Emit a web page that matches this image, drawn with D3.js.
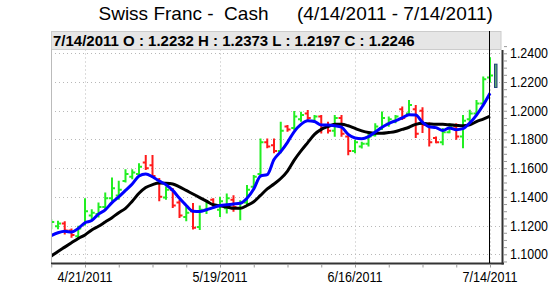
<!DOCTYPE html>
<html><head><meta charset="utf-8">
<script src="https://cdn.jsdelivr.net/npm/d3@7"></script>
<style>body{margin:0;background:#fff}</style>
</head><body><svg id="c" width="553" height="285"></svg>
<script>
const dates=["4/14/2011","4/15/2011","4/18/2011","4/19/2011","4/20/2011","4/21/2011","4/22/2011","4/25/2011","4/26/2011","4/27/2011","4/28/2011","4/29/2011",
"5/2/2011","5/3/2011","5/4/2011","5/5/2011","5/6/2011","5/9/2011","5/10/2011","5/11/2011","5/12/2011","5/13/2011","5/16/2011","5/17/2011","5/18/2011","5/19/2011","5/20/2011","5/23/2011","5/24/2011","5/25/2011","5/26/2011","5/27/2011","5/30/2011","5/31/2011",
"6/1/2011","6/2/2011","6/3/2011","6/6/2011","6/7/2011","6/8/2011","6/9/2011","6/10/2011","6/13/2011","6/14/2011","6/15/2011","6/16/2011","6/17/2011","6/20/2011","6/21/2011","6/22/2011","6/23/2011","6/24/2011","6/27/2011","6/28/2011","6/29/2011","6/30/2011",
"7/1/2011","7/4/2011","7/5/2011","7/6/2011","7/7/2011","7/8/2011","7/11/2011","7/12/2011","7/13/2011","7/14/2011"];
const open=[1.1190,1.1195,1.1215,1.1165,1.1125,1.1210,1.1270,1.1280,1.1330,1.1390,1.1410,1.1510,1.1540,1.1560,1.1640,1.1620,1.1520,1.1395,1.1450,1.1360,1.1260,1.1300,1.1190,1.1310,1.1380,1.1310,1.1320,1.1380,1.1320,1.1360,1.1470,1.1560,1.1780,1.1760,1.1720,1.1890,1.1880,1.1940,1.1980,1.1930,1.1960,1.1900,1.1860,1.1950,1.1820,1.1720,1.1750,1.1770,1.1830,1.1880,1.1910,1.1930,1.2010,1.1980,1.2010,1.2000,1.1900,1.1810,1.1780,1.1850,1.1890,1.1820,1.1940,1.1980,1.2050,1.2232];
const high=[1.1244,1.1233,1.1230,1.1180,1.1198,1.1390,1.1314,1.1360,1.1430,1.1535,1.1512,1.1593,1.1593,1.1635,1.1692,1.1692,1.1531,1.1473,1.1461,1.1380,1.1334,1.1357,1.1340,1.1370,1.1390,1.1400,1.1424,1.1412,1.1377,1.1482,1.1552,1.1807,1.1807,1.1807,1.1923,1.1900,1.1998,1.1993,1.2005,1.1970,1.1970,1.1923,1.1970,1.1970,1.1830,1.1796,1.1784,1.1843,1.1913,1.1994,1.1959,1.1970,1.2029,1.2075,1.2040,1.2025,1.1920,1.1820,1.1880,1.1913,1.1913,1.1970,1.2006,1.2075,1.2238,1.2373];
const low=[1.1174,1.1174,1.1138,1.1115,1.1100,1.1200,1.1244,1.1256,1.1314,1.1372,1.1380,1.1500,1.1523,1.1554,1.1588,1.1531,1.1369,1.1380,1.1323,1.1253,1.1230,1.1172,1.1170,1.1280,1.1330,1.1260,1.1284,1.1296,1.1238,1.1343,1.1459,1.1552,1.1738,1.1703,1.1703,1.1854,1.1865,1.1923,1.1935,1.1915,1.1842,1.1842,1.1819,1.1819,1.1690,1.1703,1.1737,1.1750,1.1820,1.1866,1.1889,1.1913,1.1936,1.1970,1.1810,1.1845,1.1750,1.1774,1.1760,1.1843,1.1797,1.1738,1.1913,1.1970,1.2029,1.2197];
const close=[1.1225,1.1215,1.1165,1.1135,1.1180,1.1300,1.1290,1.1330,1.1390,1.1460,1.1450,1.1560,1.1570,1.1610,1.1600,1.1545,1.1400,1.1450,1.1340,1.1270,1.1290,1.1185,1.1310,1.1360,1.1340,1.1370,1.1390,1.1330,1.1360,1.1450,1.1540,1.1780,1.1750,1.1720,1.1860,1.1870,1.1960,1.1970,1.1950,1.1960,1.1880,1.1860,1.1950,1.1840,1.1720,1.1780,1.1770,1.1820,1.1890,1.1950,1.1940,1.1960,1.1950,1.2040,1.1840,1.1900,1.1780,1.1780,1.1850,1.1890,1.1820,1.1930,1.1980,1.2050,1.2220,1.2246];
const fastMA=[1.1130,1.1150,1.1160,1.1155,1.1180,1.1220,1.1235,1.1280,1.1310,1.1360,1.1400,1.1445,1.1490,1.1545,1.1560,1.1540,1.1510,1.1485,1.1445,1.1390,1.1340,1.1300,1.1298,1.1310,1.1325,1.1340,1.1345,1.1350,1.1355,1.1390,1.1455,1.1545,1.1555,1.1660,1.1715,1.1780,1.1855,1.1905,1.1930,1.1925,1.1900,1.1900,1.1895,1.1885,1.1835,1.1810,1.1805,1.1820,1.1852,1.1885,1.1910,1.1930,1.1950,1.1972,1.1970,1.1920,1.1888,1.1882,1.1862,1.1880,1.1868,1.1875,1.1915,1.1970,1.2040,1.2122];
const slowMA=[1.0988,1.1020,1.1050,1.1080,1.1110,1.1135,1.1170,1.1195,1.1225,1.1255,1.1290,1.1320,1.1370,1.1425,1.1465,1.1485,1.1496,1.1495,1.1490,1.1470,1.1445,1.1420,1.1395,1.1370,1.1345,1.1338,1.1330,1.1320,1.1320,1.1340,1.1366,1.1410,1.1455,1.1490,1.1528,1.1580,1.1656,1.1720,1.1778,1.1835,1.1870,1.1890,1.1905,1.1905,1.1895,1.1877,1.1860,1.1848,1.1843,1.1843,1.1848,1.1855,1.1870,1.1885,1.1905,1.1912,1.1908,1.1905,1.1905,1.1902,1.1898,1.1895,1.1902,1.1924,1.1942,1.1962];
const yTicks=[1.10,1.12,1.14,1.16,1.18,1.20,1.22,1.24];
const xLabels=["4/21/2011","5/19/2011","6/16/2011","7/14/2011"];
const titleMain="Swiss Franc -  Cash";
const titleRange="(4/14/2011 - 7/14/2011)";

const svg=d3.select("#c");
const L=51, R=502, T=49.5, B=263;
const x=d3.scaleLinear().domain([0,65]).range([51.25,490]);
const y=d3.scaleLinear().domain([1.10,1.24]).range([254.3,53.3]);
const idx=dates.map((d,i)=>i);

// title
svg.append("text").attr("x",98.5).attr("y",20).attr("font-family","Liberation Sans, Arial").attr("font-size",19).attr("fill","#000").attr("xml:space","preserve").style("white-space","pre").text(titleMain);
svg.append("text").attr("x",297).attr("y",20).attr("font-family","Liberation Sans, Arial").attr("font-size",19).attr("fill","#000").text(titleRange);

// grid
const grid=svg.append("g");
grid.selectAll("line.h").data(yTicks).join("line")
  .attr("x1",L).attr("x2",R).attr("y1",d=>Math.round(y(d))+0.5).attr("y2",d=>Math.round(y(d))+0.5)
  .attr("stroke","#b8b8b8").attr("stroke-dasharray","1,3");
grid.selectAll("line.v").data(xLabels).join("line")
  .attr("x1",d=>Math.round(x(dates.indexOf(d)))+0.5).attr("x2",d=>Math.round(x(dates.indexOf(d)))+0.5)
  .attr("y1",T).attr("y2",B).attr("stroke","#b8b8b8").attr("stroke-dasharray","1,3");

// clip
svg.append("clipPath").attr("id","pc").append("rect").attr("x",L).attr("y",T).attr("width",R-L).attr("height",B-T);
const plot=svg.append("g").attr("clip-path","url(#pc)");

// OHLC bars
const bars=plot.selectAll("g.bar").data(idx).join("g")
  .attr("stroke",i=>close[i]>=open[i]?"#22ee22":"#ff1a1a").attr("stroke-width",2);
bars.append("line").attr("x1",i=>x(i)).attr("x2",i=>x(i)).attr("y1",i=>y(high[i])).attr("y2",i=>y(low[i]));
bars.append("line").attr("x1",i=>x(i)-3).attr("x2",i=>x(i)).attr("y1",i=>y(open[i])).attr("y2",i=>y(open[i]));
bars.append("line").attr("x1",i=>x(i)).attr("x2",i=>x(i)+3).attr("y1",i=>y(close[i])).attr("y2",i=>y(close[i]));

// moving averages
const line=arr=>d3.line().x(i=>x(i)).y(i=>y(arr[i])).curve(d3.curveMonotoneX)(idx);
plot.append("path").attr("d",line(slowMA)).attr("fill","none").attr("stroke","#000").attr("stroke-width",3).attr("stroke-linejoin","round");
plot.append("path").attr("d",line(fastMA)).attr("fill","none").attr("stroke","#0000ff").attr("stroke-width",3).attr("stroke-linejoin","round");

// header box
const last=dates.length-1;
svg.append("rect").attr("x",51.5).attr("y",31.5).attr("width",449.5).attr("height",18).attr("fill","#e6e6e6").attr("stroke","#cccccc");
svg.append("text").attr("x",53).attr("y",45.5).attr("font-family","Liberation Sans, Arial").attr("font-weight","bold").attr("font-size",15).attr("fill","#000")
  .text(`${dates[last]} O : ${open[last].toFixed(4)} H : ${high[last].toFixed(4)} L : ${low[last].toFixed(4)} C : ${close[last].toFixed(4)}`);

// frame
svg.append("line").attr("x1",L+0.5).attr("x2",L+0.5).attr("y1",T).attr("y2",B).attr("stroke","#bbbbbb");
svg.append("line").attr("x1",L).attr("x2",R+2).attr("y1",B+0.5).attr("y2",B+0.5).attr("stroke","#333").attr("stroke-width",2);
svg.append("line").attr("x1",R+0.5).attr("x2",R+0.5).attr("y1",50).attr("y2",B+1.5).attr("stroke","#333").attr("stroke-width",2);

// cursor line at last bar
svg.append("line").attr("x1",Math.round(x(last))-0.5).attr("x2",Math.round(x(last))-0.5).attr("y1",31).attr("y2",B).attr("stroke","#000").attr("stroke-width",1);
// last range marker
svg.append("rect").attr("x",494.5).attr("y",y(high[last])+7).attr("width",2.5).attr("height",y(low[last])-y(high[last])-2)
  .attr("fill","#5fa86f").attr("stroke","#1f3f7f").attr("stroke-width",1);

// y axis (right)
const minor=d3.range(1.095,1.2451,0.005);
const yAxis=d3.axisRight(y).tickValues(minor).tickSize(3).tickFormat("");
const ya=svg.append("g").attr("transform",`translate(${R+2},0)`).call(yAxis);
ya.select(".domain").remove();
ya.selectAll("line").attr("stroke","#999");
svg.selectAll("text.yl").data(yTicks).join("text").attr("class","yl")
  .attr("x",510).attr("y",d=>y(d)+5).attr("font-family","Liberation Sans, Arial").attr("font-size",14)
  .attr("textLength",38).attr("lengthAdjust","spacingAndGlyphs").attr("fill","#000").text(d=>d.toFixed(4));

// x axis
const weekly=idx.filter(i=>i%5===0);
const xAxis=d3.axisBottom(x).tickValues(weekly).tickSize(3).tickFormat("");
const xa=svg.append("g").attr("transform",`translate(0,${B+1.5})`).call(xAxis);
xa.select(".domain").remove();
xa.selectAll("line").attr("stroke","#999");
svg.selectAll("text.xl").data(xLabels).join("text").attr("class","xl")
  .attr("x",d=>x(dates.indexOf(d))).attr("y",281.5).attr("text-anchor","middle")
  .attr("font-family","Liberation Sans, Arial").attr("font-size",14)
  .attr("textLength",55).attr("lengthAdjust","spacingAndGlyphs").attr("fill","#000").text(d=>d);
</script></body></html>
